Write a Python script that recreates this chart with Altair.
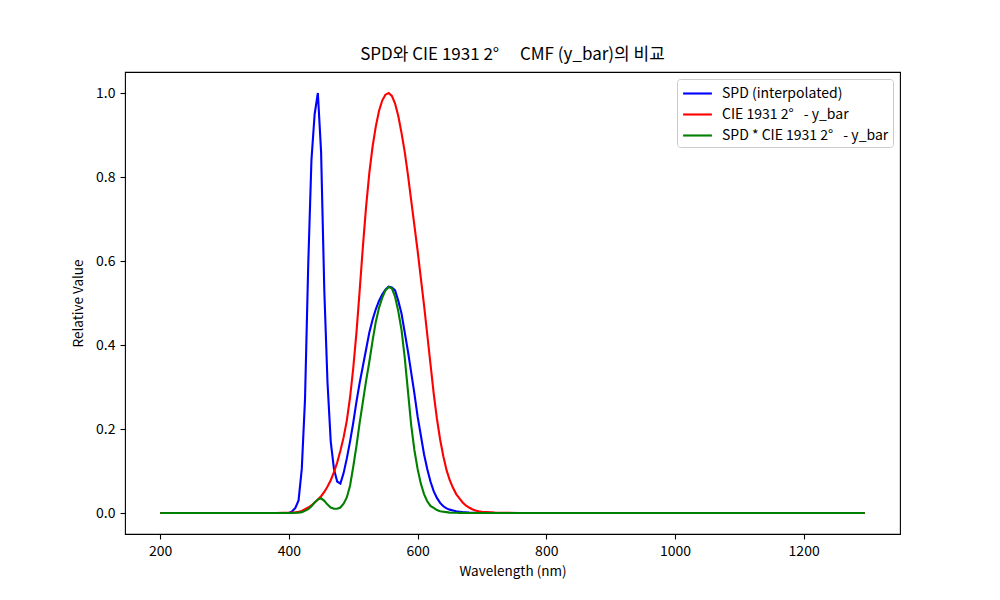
import altair as alt
import pandas as pd

# ---- data ----
wavelength_nm = [200, 380, 390,
                 400, 405, 410, 415, 420, 425, 430, 435, 440, 445, 450, 455,
                 460, 465, 470, 475, 480, 485, 490, 495, 500, 505, 510, 515,
                 520, 525, 530, 535, 540, 545, 550, 555, 560, 565, 570, 575,
                 580, 585, 590, 595, 600, 605, 610, 615, 620, 625, 630, 635,
                 640, 645, 650, 655, 660, 665, 670, 675, 680, 685, 690, 695,
                 700, 720, 740, 760, 780, 1295]

spd_interpolated = [0, 0, 0,
                    0, 0.004, 0.012, 0.03, 0.105, 0.27, 0.59, 0.84, 0.95, 1.0, 0.86, 0.53,
                    0.31, 0.17, 0.105, 0.075, 0.07, 0.095, 0.13, 0.17, 0.215, 0.265, 0.31, 0.35,
                    0.39, 0.43, 0.46, 0.485, 0.505, 0.52, 0.532, 0.539, 0.537, 0.53, 0.505, 0.475,
                    0.43, 0.385, 0.335, 0.285, 0.23, 0.185, 0.14, 0.105, 0.075, 0.052, 0.036, 0.024,
                    0.016, 0.011, 0.008, 0.006, 0.004, 0.003, 0.002, 0.0015, 0.001, 0.0007, 0.0005, 0.0003,
                    0.0002, 0, 0, 0, 0, 0]

cie_y_bar = [0, 0, 0.0002,
             0.0005, 0.001, 0.0015, 0.003, 0.005, 0.009, 0.013, 0.018, 0.025, 0.032, 0.04, 0.05,
             0.063, 0.078, 0.097, 0.12, 0.148, 0.18, 0.22, 0.275, 0.345, 0.43, 0.53, 0.635,
             0.73, 0.81, 0.872, 0.92, 0.957, 0.982, 0.996, 1.0, 0.993, 0.975, 0.945, 0.905,
             0.86, 0.805, 0.745, 0.685, 0.625, 0.56, 0.495, 0.425, 0.355, 0.285, 0.225, 0.175,
             0.135, 0.102, 0.078, 0.06, 0.045, 0.035, 0.025, 0.018, 0.013, 0.009, 0.006, 0.004,
             0.003, 0.001, 0.0003, 0.0001, 0, 0]

spd_times_y_bar = [0, 0, 0,
                   0, 0, 0.0005, 0.001, 0.002, 0.005, 0.009, 0.016, 0.025, 0.032, 0.035, 0.029,
                   0.02, 0.013, 0.01, 0.01, 0.013, 0.022, 0.037, 0.065, 0.11, 0.16, 0.215, 0.265,
                   0.315, 0.36, 0.41, 0.455, 0.488, 0.512, 0.53, 0.538, 0.535, 0.515, 0.48, 0.436,
                   0.37, 0.29, 0.21, 0.15, 0.105, 0.07, 0.045, 0.028, 0.017, 0.012, 0.007, 0.004,
                   0.003, 0.002, 0.001, 0.0007, 0.0005, 0.0003, 0.0002, 0.0001, 0, 0, 0, 0,
                   0, 0, 0, 0, 0, 0]

series_labels = ["SPD (interpolated)",
                 "CIE 1931 2°\u2002 - y_bar",
                 "SPD * CIE 1931 2°\u2002 - y_bar"]
series_colors = ["#0000ff", "#ff0000", "#008000"]
x_ticks = [200, 400, 600, 800, 1000, 1200]
y_ticks = [0.0, 0.2, 0.4, 0.6, 0.8, 1.0]
title_text = "SPD와 CIE 1931 2°\u2003 CMF (y_bar)의 비교"

rows = []
for label, values in zip(series_labels, [spd_interpolated, cie_y_bar, spd_times_y_bar]):
    for i, (w, v) in enumerate(zip(wavelength_nm, values)):
        rows.append({"wavelength": w, "value": v, "series": label, "k": i})
df = pd.DataFrame(rows)

FONT = "Noto Sans CJK KR"

chart = alt.Chart(df).mark_line(strokeWidth=2.1).encode(
    x=alt.X("wavelength:Q",
            scale=alt.Scale(domain=[145.25, 1349.75], nice=False, zero=False),
            axis=alt.Axis(values=x_ticks, title="Wavelength (nm)", format="d",
                          titlePadding=6)),
    y=alt.Y("value:Q",
            scale=alt.Scale(domain=[-0.05, 1.05], nice=False, zero=False),
            axis=alt.Axis(values=y_ticks, title="Relative Value", format=".1f",
                          titlePadding=10)),
    color=alt.Color("series:N",
                    scale=alt.Scale(domain=series_labels, range=series_colors),
                    sort=series_labels,
                    legend=alt.Legend(title=None, orient="top-right", offset=7,
                                      symbolType="M-1.6,0H1.6", symbolSize=324,
                                      symbolStrokeWidth=2.1, symbolOffset=6,
                                      labelFontSize=14,
                                      labelFont=FONT, labelColor="black",
                                      labelLimit=400,
                                      labelOffset=14, rowPadding=3,
                                      fillColor="white", strokeColor="#cccccc",
                                      cornerRadius=3, padding=4)),
    order="k:Q",
).properties(
    width=775, height=462,
    background="white",
    title=alt.Title(title_text, fontSize=17, font=FONT, fontWeight="normal",
                    color="black", anchor="middle", offset=8),
    padding={"left": 117, "top": 64, "right": 92, "bottom": 58},
    autosize=alt.AutoSizeParams(type="none"),
).configure_view(
    stroke="black", strokeWidth=1.1
).configure_axis(
    grid=False, domain=False, tickColor="black", tickSize=5, tickWidth=1.1,
    labelFont=FONT, labelFontSize=14, labelColor="black", labelPadding=5,
    titleFont=FONT, titleFontSize=13.5, titleFontWeight="normal", titleColor="black",
)

chart.save("out.html", embed_options={"renderer": "svg", "actions": False})
